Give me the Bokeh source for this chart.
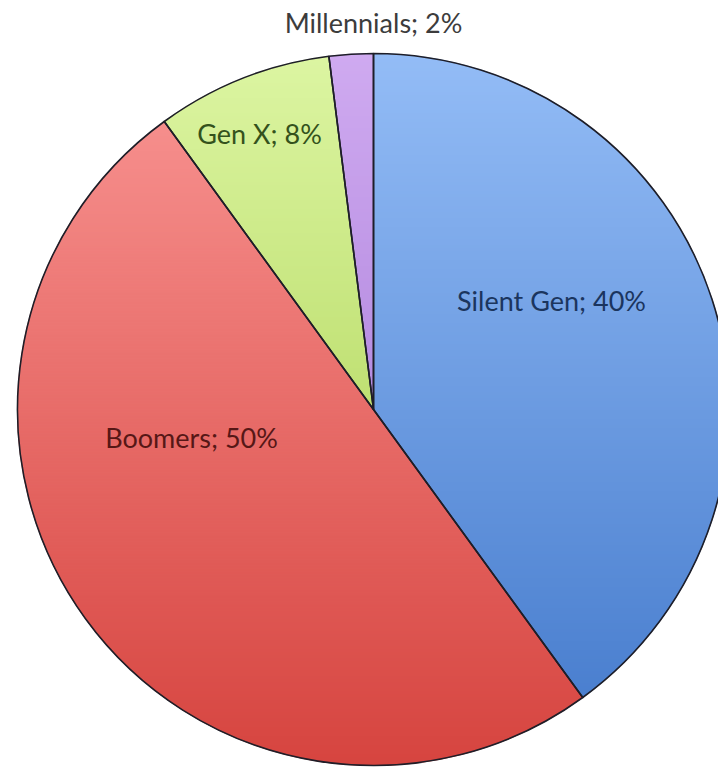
import numpy as np
from bokeh.plotting import figure
from bokeh.models import Range1d
from bokeh.core.properties import value
from bokeh.embed import file_html
from bokeh.resources import INLINE

# ---- data ----
categories = ["Silent Gen", "Boomers", "Gen X", "Millennials"]
shares = [40, 50, 8, 2]

# ---- styles / layout ----
top_colors = ["#93bcf6", "#f68e8c", "#dcf5a2", "#cfaaf0"]
bottom_colors = ["#4a7fcf", "#d6443f", "#bfe072", "#b58be0"]
text_colors = ["#1b355e", "#561716", "#34521c", "#3c3c3c"]
label_offsets = [(178, 109), (-182, -28), (-114, 276), (0, 387)]  # from pie centre, px
W, H = 718, 769
CX, CY, R = 373, H - 409, 356

p = figure(width=W, height=H, output_backend="svg", toolbar_location=None,
           x_range=Range1d(0, W), y_range=Range1d(0, H), min_border=0)
p.axis.visible = False
p.grid.visible = False
p.outline_line_color = None
p.background_fill_color = "white"


def hex2rgb(h):
    h = h.lstrip("#")
    return np.array([int(h[i:i + 2], 16) for i in (0, 2, 4)], dtype=float)


def rgb2hex(c):
    return "#%02x%02x%02x" % tuple(int(round(v)) for v in c)


def clip(poly, y0, keep_above):
    out = []
    n = len(poly)
    for i in range(n):
        a = poly[i]
        b = poly[(i + 1) % n]
        ina = a[1] >= y0 if keep_above else a[1] <= y0
        inb = b[1] >= y0 if keep_above else b[1] <= y0
        if ina:
            out.append(a)
        if ina != inb:
            t = (y0 - a[1]) / (b[1] - a[1])
            out.append((a[0] + t * (b[0] - a[0]), y0))
    return out


total = float(sum(shares))
angles = [np.pi / 2]
for s in shares:
    angles.append(angles[-1] - 2 * np.pi * s / total)

for i, cat in enumerate(categories):
    a0, a1 = angles[i], angles[i + 1]
    th = np.linspace(a0, a1, 200)
    poly = [(CX, CY)] + [(CX + R * np.cos(t), CY + R * np.sin(t)) for t in th]
    ys = [q[1] for q in poly]
    ymin, ymax = min(ys), max(ys)
    c_top, c_bot = hex2rgb(top_colors[i]), hex2rgb(bottom_colors[i])
    step = 3.0
    xs_l, ys_l, cols = [], [], []
    y = ymin
    while y < ymax:
        y1 = min(y + step, ymax)
        band = clip(clip(poly, y, True), y1, False)
        if len(band) >= 3:
            t = 1 - ((y + y1) / 2 - ymin) / (ymax - ymin)
            col = rgb2hex(c_top + (c_bot - c_top) * t)
            xs_l.append([q[0] for q in band])
            ys_l.append([q[1] for q in band])
            cols.append(col)
        y = y1
    p.patches(xs_l, ys_l, fill_color=cols, line_color=cols, line_width=1)

p.wedge(x=[CX] * len(shares), y=[CY] * len(shares), radius=R,
        start_angle=angles[:-1], end_angle=angles[1:], direction="clock",
        fill_color=None, line_color="#1e1e28", line_width=1.6)

labels = [f"{c}; {s}%" for c, s in zip(categories, shares)]
p.text(x=[CX + d[0] for d in label_offsets], y=[CY + d[1] for d in label_offsets],
       text=labels, text_color=text_colors, text_font=value("Lato"),
       text_font_size="27px", text_align="center", text_baseline="middle")

open("out.html", "w").write(file_html(p, INLINE))
